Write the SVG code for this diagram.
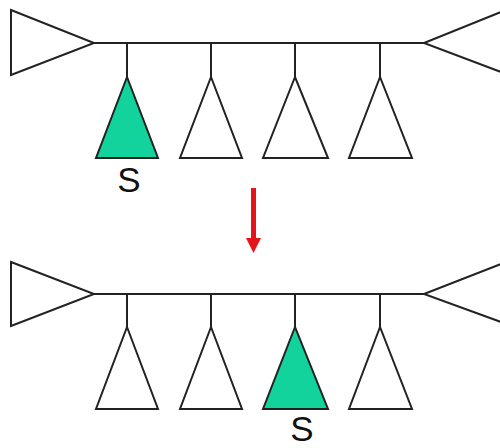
<svg xmlns="http://www.w3.org/2000/svg" width="500" height="448" viewBox="0 0 500 448">
  <style>
    .ln { fill: none; stroke: #222; stroke-width: 2; }
    .tri { fill: #fff; stroke: #222; stroke-width: 2; stroke-linejoin: miter; }
    .sel { fill: #12D39B; }
    .lbl { font-family: "Liberation Sans", "DejaVu Sans", sans-serif; font-size: 35px; fill: #111; text-anchor: middle; }
  </style>
  <rect width="500" height="448" fill="#fff"/>

  <!-- connectors: spine and drop lines -->
  <g id="connectors">
    <path class="ln" d="M94 43H424M127 43V77M211 43V77M295 43V77M380 43V77"/>
    <path class="ln" d="M94 294H424M127 294V327M211 294V327M295 294V327M380 294V327"/>
  </g>

  <!-- upper tree -->
  <g id="top-left-end"><polygon class="tri" points="11,10 94,43 11,75"/></g>
  <g id="top-right-end"><polyline class="ln" points="501,12 424,43 501,72"/></g>
  <g id="top-leaf-1"><polygon class="tri sel" points="127,77 96,158 158,158"/><text class="lbl" x="129" y="192">S</text></g>
  <g id="top-leaf-2"><polygon class="tri" points="211,77 180,158 242,158"/></g>
  <g id="top-leaf-3"><polygon class="tri" points="295,77 263,158 328,158"/></g>
  <g id="top-leaf-4"><polygon class="tri" points="380,77 349,158 412,158"/></g>

  <!-- transition arrow -->
  <g id="arrow">
    <rect x="251" y="188" width="5" height="52" fill="#E5141B"/>
    <polygon points="246,238 261,238 253.5,253" fill="#E5141B"/>
  </g>

  <!-- lower tree -->
  <g id="bottom-left-end"><polygon class="tri" points="11,262 94,294 11,326"/></g>
  <g id="bottom-right-end"><polyline class="ln" points="501,264 424,294 501,322"/></g>
  <g id="bottom-leaf-1"><polygon class="tri" points="127,327 96,409 158,409"/></g>
  <g id="bottom-leaf-2"><polygon class="tri" points="211,327 180,409 242,409"/></g>
  <g id="bottom-leaf-3"><polygon class="tri sel" points="295,327 263,409 328,409"/><text class="lbl" x="302" y="441">S</text></g>
  <g id="bottom-leaf-4"><polygon class="tri" points="380,327 349,409 412,409"/></g>
</svg>
